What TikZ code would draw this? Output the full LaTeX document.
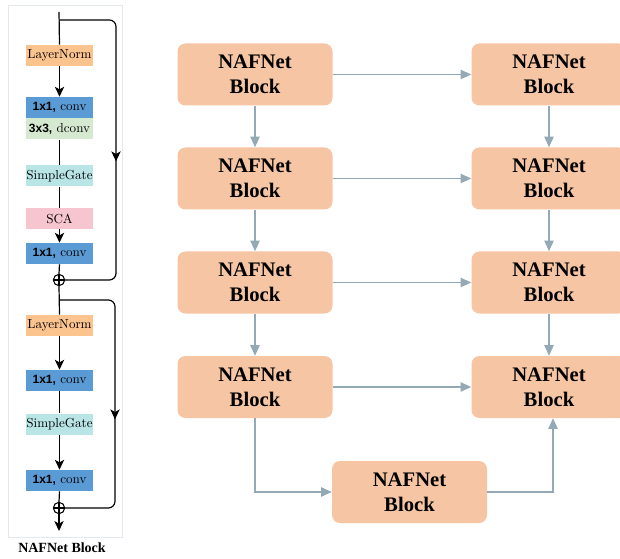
\documentclass[tikz,border=0pt]{standalone}
\usepackage{fontspec}
\newfontfamily\timesfont{Liberation Serif}
\newfontfamily\arialfont{Liberation Sans}
\usetikzlibrary{arrows.meta,decorations.markings}

\definecolor{lnorm}{HTML}{FBC38E}
\definecolor{convblue}{HTML}{5B9BD5}
\definecolor{dgreen}{HTML}{D5E8D0}
\definecolor{sgcyan}{HTML}{B9E5E6}
\definecolor{scapink}{HTML}{F7C5CF}
\definecolor{nafpeach}{HTML}{F6C6A4}
\definecolor{linkgray}{HTML}{93A9B5}
\definecolor{panelline}{HTML}{E3E9EF}

\begin{document}
\begin{tikzpicture}[x=0.75pt,y=-0.75pt,
  op/.style={minimum width=50.25pt, minimum height=15.75pt, inner sep=0pt,
    font=\fontsize{9.8}{10}\selectfont},
  naf/.style={fill=nafpeach, rounded corners=6pt, minimum width=116.25pt,
    minimum height=46.5pt, inner sep=0pt, align=center,
    font=\timesfont\bfseries\fontsize{15.5}{18.5}\selectfont},
  link/.style={draw=linkgray, line width=1.1pt,
    -{Triangle[length=8pt,width=7pt]}},
  flow/.style={black, line width=0.9pt},
  flowarr/.style={flow, -{Stealth[length=7.5pt,width=7pt,inset=2pt]}},
  midarrow/.style={postaction={decorate}, decoration={markings,
    mark=at position #1 with {\arrow[line width=0.9pt]{Stealth[length=7.5pt,width=7pt,inset=2pt]}}}},
  plusnode/.style={circle, draw, line width=0.8pt, minimum size=8.5pt,
    inner sep=0pt, path picture={
      \draw[line width=0.8pt] (path picture bounding box.north) -- (path picture bounding box.south)
        (path picture bounding box.west) -- (path picture bounding box.east);}},
]
\useasboundingbox[fill=white] (0,0) rectangle (620,559);

% ---------- block detail panel ----------
\draw[panelline, line width=0.6pt] (8,5) rectangle (122,537);

\newcommand{\sfb}[1]{{\arialfont\bfseries\fontsize{9}{10}\selectfont #1}}

\node[op, fill=lnorm]    (ln1) at (59.5,55.5)  {LayerNorm};
\node[op, fill=convblue] (c1)  at (59.5,107.5) {\sfb{1x1,} conv};
\node[op, fill=dgreen]   (dc)  at (59.5,129)   {\sfb{3x3,} dconv};
\node[op, fill=sgcyan]   (sg1) at (59.5,176)   {SimpleGate};
\node[op, fill=scapink]  (sca) at (59.5,218.5) {SCA};
\node[op, fill=convblue] (c2)  at (59.5,253.5) {\sfb{1x1,} conv};
\node[plusnode]          (p1)  at (59,280)     {};

\node[op, fill=lnorm]    (ln2) at (59.5,325.5) {LayerNorm};
\node[op, fill=convblue] (c3)  at (59.5,380.5) {\sfb{1x1,} conv};
\node[op, fill=sgcyan]   (sg2) at (59.5,424)   {SimpleGate};
\node[op, fill=convblue] (c4)  at (59.5,480.5) {\sfb{1x1,} conv};
\node[plusnode]          (p2)  at (59,508)     {};

\coordinate (in)  at (59,12);
\coordinate (s1)  at (59,20);
\coordinate (s2)  at (59,300);
\coordinate (out) at (59,531);

% main path
\draw[flow] (in) -- (ln1.north);
\draw[flowarr] (ln1.south) -- (c1.north);
\draw[flow] (dc.south) -- (sg1.north);
\draw[flow] (sg1.south) -- (sca.north);
\draw[flowarr] (sca.south) -- (c2.north);
\draw[flow] (c2.south) -- (p1.north);
\draw[flow] (p1.south) -- (ln2.north);
\draw[flowarr] (ln2.south) -- (c3.north);
\draw[flow] (c3.south) -- (sg2.north);
\draw[flowarr] (sg2.south) -- (c4.north);
\draw[flow] (c4.south) -- (p2.north);
\draw[flowarr] (p2.south) -- (out);

% skip connections
\draw[flow, rounded corners=5pt, midarrow=0.54] (s1) -- (116,20) -- (116,280) -- (p1.east);
\draw[flow, rounded corners=5pt, midarrow=0.56] (s2) -- (115,300) -- (115,508) -- (p2.east);

\node[font=\timesfont\bfseries\fontsize{10.5}{12}\selectfont] (cap) at (62,548) {NAFNet Block};

% ---------- network of blocks ----------
\node[naf] (a1) at (255,74.5)  {NAFNet\\Block};
\node[naf] (a2) at (255,178.5) {NAFNet\\Block};
\node[naf] (a3) at (255,282.5) {NAFNet\\Block};
\node[naf] (a4) at (255,387)   {NAFNet\\Block};
\node[naf] (b1) at (549,74.5)  {NAFNet\\Block};
\node[naf] (b2) at (549,178.5) {NAFNet\\Block};
\node[naf] (b3) at (549,282.5) {NAFNet\\Block};
\node[naf] (b4) at (549,387)   {NAFNet\\Block};
\node[naf] (m)  at (409.5,492) {NAFNet\\Block};

\draw[link] (a1) -- (a2);
\draw[link] (a2) -- (a3);
\draw[link] (a3) -- (a4);
\draw[link] (b1) -- (b2);
\draw[link] (b2) -- (b3);
\draw[link] (b3) -- (b4);
\draw[link] (a1) -- (b1);
\draw[link] (a2) -- (b2);
\draw[link] (a3) -- (b3);
\draw[link] (a4) -- (b4);
\draw[link] (a4.south) |- (m.west);
\draw[link] (m.east) -| ([xshift=3pt]b4.south);
\end{tikzpicture}
\end{document}
